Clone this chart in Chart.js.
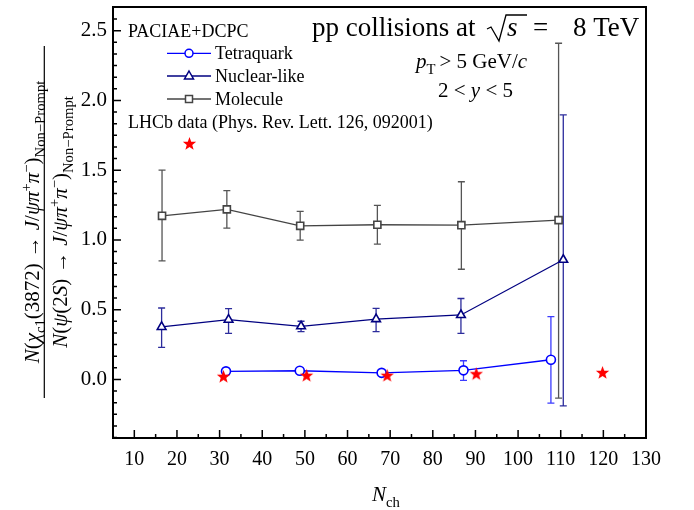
<!DOCTYPE html>
<html lang="en">
<head>
<meta charset="UTF-8">
<title>X(3872) ratio vs Nch</title>
<script src="https://cdn.jsdelivr.net/npm/chart.js"></script>
<style>
  body { margin: 0; background: #fff; }
  canvas { display: block; }
</style>
</head>
<body>
<canvas id="grafico" width="694" height="510"></canvas>
<script>
// --- data ---
const xTicks = [10, 20, 30, 40, 50, 60, 70, 80, 90, 100, 110, 120, 130];
const yTicks = [0.0, 0.5, 1.0, 1.5, 2.0, 2.5];

const tetraX  = [31.5, 48.8, 68.0, 87.2, 107.7];
const tetraY  = [0.058, 0.062, 0.047, 0.065, 0.141];
const tetraLo = [0.050, 0.054, 0.040, -0.007, -0.170];
const tetraHi = [0.066, 0.070, 0.054, 0.134, 0.450];

const nuclX  = [16.4, 32.1, 49.1, 66.7, 86.6, 110.6];
const nuclY  = [0.376, 0.428, 0.381, 0.432, 0.462, 0.858];
const nuclLo = [0.230, 0.330, 0.343, 0.343, 0.330, -0.190];
const nuclHi = [0.512, 0.508, 0.417, 0.510, 0.580, 1.897];

const molX  = [16.5, 31.7, 48.9, 67.0, 86.7, 109.5];
const molY  = [1.173, 1.219, 1.101, 1.109, 1.106, 1.142];
const molLo = [0.850, 1.085, 0.999, 0.970, 0.790, -0.134];
const molHi = [1.500, 1.353, 1.205, 1.248, 1.417, 2.410];

const lhcbX = [30.9, 50.4, 69.3, 90.2, 119.8];
const lhcbY = [0.022, 0.029, 0.029, 0.041, 0.050];

const SERIF = '"Liberation Serif", "DejaVu Serif", serif';
const BLUE = '#0000ff', NAVY = '#000080', GRAY = '#444444', RED = '#ff0000';

// filled five-point star used as marker
function starPath(ctx, cx, cy, ro, ri) {
  ctx.beginPath();
  for (let i = 0; i < 10; i++) {
    const r = i % 2 === 0 ? ro : ri;
    const a = -Math.PI / 2 + i * Math.PI / 5;
    const px = cx + r * Math.cos(a), py = cy + r * Math.sin(a);
    if (i === 0) ctx.moveTo(px, py); else ctx.lineTo(px, py);
  }
  ctx.closePath();
}
const starImg = document.createElement('canvas');
starImg.width = 15; starImg.height = 15;
(function () {
  const c = starImg.getContext('2d');
  c.fillStyle = RED;
  starPath(c, 7.5, 8, 7, 2.9);
  c.fill();
})();

function pts(xs, ys) { return xs.map((x, i) => ({ x: x, y: ys[i] })); }

// error bars: [xs, lo, hi, colour]
const errSets = [
  [molX, molLo, molHi, '#555555'],
  [nuclX, nuclLo, nuclHi, '#2c2c9c'],
  [tetraX, tetraLo, tetraHi, '#3c3cff']
];

// draws a list of text pieces one after another
function richWidth(ctx, segs, size) {
  let w = 0;
  segs.forEach(s => {
    const fs = s.sub || s.sup ? size * 0.7 : size;
    ctx.font = (s.it ? 'italic ' : '') + fs + 'px ' + SERIF;
    w += ctx.measureText(s.t).width + (s.gap || 0);
  });
  return w;
}
function drawRich(ctx, segs, x, y, size, align) {
  let cx = x;
  if (align === 'center') cx = x - richWidth(ctx, segs, size) / 2;
  segs.forEach(s => {
    const fs = s.sub || s.sup ? size * 0.7 : size;
    ctx.font = (s.it ? 'italic ' : '') + fs + 'px ' + SERIF;
    let dy = 0;
    if (s.sub) dy = size * 0.28;
    if (s.sup) dy = -size * 0.4;
    ctx.fillText(s.t, cx, y + dy);
    cx += ctx.measureText(s.t).width + (s.gap || 0);
  });
}

const numer = [
  { t: 'N', it: true }, { t: '(' }, { t: 'χ', it: true }, { t: 'c1', sub: true },
  { t: '(3872)', gap: 6 }, { t: '→', gap: 6 }, { t: 'J', it: true }, { t: '/' },
  { t: 'ψπ', it: true }, { t: '+', sup: true }, { t: 'π', it: true }, { t: '−', sup: true },
  { t: ')' }, { t: 'Non−Prompt', sub: true }
];
const denom = [
  { t: 'N', it: true }, { t: '(' }, { t: 'ψ', it: true }, { t: '(2' }, { t: 'S', it: true },
  { t: ')', gap: 6 }, { t: '→', gap: 6 }, { t: 'J', it: true }, { t: '/' },
  { t: 'ψπ', it: true }, { t: '+', sup: true }, { t: 'π', it: true }, { t: '−', sup: true },
  { t: ')' }, { t: 'Non−Prompt', sub: true }
];

function legendMarker(ctx, kind, x, y, color) {
  ctx.strokeStyle = color; ctx.fillStyle = '#fff'; ctx.lineWidth = 1.5;
  ctx.beginPath();
  if (kind === 'circle') ctx.arc(x, y, 4, 0, Math.PI * 2);
  if (kind === 'tri') { ctx.moveTo(x, y - 5); ctx.lineTo(x + 4.5, y + 3); ctx.lineTo(x - 4.5, y + 3); ctx.closePath(); }
  if (kind === 'rect') ctx.rect(x - 3.5, y - 3.5, 7, 7);
  ctx.fill(); ctx.stroke();
}

const decor = {
  id: 'decor',
  beforeDatasetsDraw(chart) {
    const ctx = chart.ctx, xs = chart.scales.x, ys = chart.scales.y;
    ctx.save();
    ctx.lineWidth = 1.3;
    errSets.forEach(([xv, lo, hi, col]) => {
      ctx.strokeStyle = col;
      xv.forEach((v, i) => {
        const px = xs.getPixelForValue(v);
        const p1 = ys.getPixelForValue(lo[i]), p2 = ys.getPixelForValue(hi[i]);
        ctx.beginPath();
        ctx.moveTo(px, p1); ctx.lineTo(px, p2);
        ctx.moveTo(px - 3.5, p1); ctx.lineTo(px + 3.5, p1);
        ctx.moveTo(px - 3.5, p2); ctx.lineTo(px + 3.5, p2);
        ctx.stroke();
      });
    });
    ctx.restore();
  },
  afterDraw(chart) {
    const ctx = chart.ctx, a = chart.chartArea, xs = chart.scales.x, ys = chart.scales.y;
    ctx.save();
    // frame
    ctx.strokeStyle = '#000'; ctx.lineWidth = 2;
    ctx.strokeRect(a.left, a.top, a.right - a.left, a.bottom - a.top);
    // inward ticks
    ctx.lineWidth = 1.5;
    ctx.beginPath();
    for (let v = 10; v <= 125; v += 5) {
      const px = xs.getPixelForValue(v), len = v % 10 === 0 ? 8 : 4;
      ctx.moveTo(px, a.bottom); ctx.lineTo(px, a.bottom - len);
    }
    for (let k = -5; k <= 31; k++) {
      const v = k / 12;
      if (v <= ys.min || v >= ys.max) continue;
      const py = ys.getPixelForValue(v), len = k % 6 === 0 ? 8 : 4;
      ctx.moveTo(a.left, py); ctx.lineTo(a.left + len, py);
    }
    ctx.stroke();

    ctx.fillStyle = '#000';
    ctx.textBaseline = 'alphabetic';
    ctx.textAlign = 'left';
    // top-left labels and legend
    ctx.font = '18px ' + SERIF;
    ctx.fillText('PACIAE+DCPC', 128, 37);
    ctx.fillText('LHCb data (Phys. Rev. Lett. 126, 092001)', 128, 128);
    const leg = [['Tetraquark', 'circle', BLUE, 53.3], ['Nuclear-like', 'tri', NAVY, 76], ['Molecule', 'rect', GRAY, 99]];
    leg.forEach(([txt, kind, col, y]) => {
      ctx.strokeStyle = col; ctx.lineWidth = 1.3;
      ctx.beginPath(); ctx.moveTo(167, y); ctx.lineTo(211, y); ctx.stroke();
      legendMarker(ctx, kind, 189, y, col);
      ctx.fillStyle = '#000';
      ctx.font = '18px ' + SERIF;
      ctx.fillText(txt, 215, y + 6);
    });
    ctx.drawImage(starImg, 182, 136);

    // "pp collisions at sqrt(s) = 8 TeV"
    ctx.font = '27px ' + SERIF;
    ctx.fillText('pp collisions at', 312, 36);
    ctx.strokeStyle = '#000'; ctx.lineWidth = 1.3;
    ctx.beginPath();
    ctx.moveTo(487, 29); ctx.lineTo(491, 27); ctx.lineTo(499, 41); ctx.lineTo(506, 15); ctx.lineTo(527, 15);
    ctx.stroke();
    ctx.font = 'italic 27px ' + SERIF;
    ctx.fillText('s', 507, 36);
    ctx.font = '27px ' + SERIF;
    ctx.fillText('=', 533, 36);
    ctx.fillText('8 TeV', 573, 36);

    drawRich(ctx, [{ t: 'p', it: true }, { t: 'T', sub: true, gap: 4 }, { t: '> 5 GeV/' }, { t: 'c', it: true }], 416, 68, 21, 'left');
    drawRich(ctx, [{ t: '2 < ' }, { t: 'y', it: true }, { t: ' < 5' }], 438, 97, 21, 'left');

    // x title
    drawRich(ctx, [{ t: 'N', it: true }, { t: 'ch', sub: true }], 372, 501, 21, 'left');

    // y title (fraction, rotated)
    ctx.translate(0, 222);
    ctx.rotate(-Math.PI / 2);
    drawRich(ctx, numer, 0, 39, 21, 'center');
    drawRich(ctx, denom, 0, 67, 21, 'center');
    ctx.fillRect(-176, 43.7, 352, 1.2);
    ctx.restore();
  }
};

const ctx = document.getElementById('grafico').getContext('2d');
new Chart(ctx, {
  type: 'scatter',
  data: {
    datasets: [
      { label: 'LHCb', data: pts(lhcbX, lhcbY), pointStyle: starImg, showLine: false },
      { label: 'Tetraquark', data: pts(tetraX, tetraY), showLine: true, borderColor: BLUE, borderWidth: 1.3,
        pointStyle: 'circle', pointRadius: 4.5, pointBorderWidth: 1.6, pointBackgroundColor: '#fff', pointBorderColor: BLUE },
      { label: 'Nuclear-like', data: pts(nuclX, nuclY), showLine: true, borderColor: NAVY, borderWidth: 1.3,
        pointStyle: 'triangle', pointRadius: 5, pointBorderWidth: 1.6, pointBackgroundColor: '#fff', pointBorderColor: NAVY },
      { label: 'Molecule', data: pts(molX, molY), showLine: true, borderColor: GRAY, borderWidth: 1.3,
        pointStyle: 'rect', pointRadius: 5, pointBorderWidth: 1.6, pointBackgroundColor: '#fff', pointBorderColor: GRAY }
    ]
  },
  options: {
    responsive: false,
    animation: false,
    layout: { padding: { top: 7, right: 48, left: 0, bottom: 0 } },
    plugins: { legend: { display: false }, tooltip: { enabled: false } },
    scales: {
      x: {
        type: 'linear', min: 5, max: 130,
        grid: { display: false, drawTicks: false },
        border: { display: false },
        afterBuildTicks: s => { s.ticks = xTicks.map(v => ({ value: v })); },
        afterFit: s => { s.height = 72; s.paddingLeft = 0; s.paddingRight = 0; },
        ticks: { color: '#000', padding: 10, font: { family: SERIF, size: 20 } }
      },
      y: {
        min: -0.42, max: 2.67,
        grid: { display: false, drawTicks: false },
        border: { display: false },
        afterBuildTicks: s => { s.ticks = yTicks.map(v => ({ value: v })); },
        afterFit: s => { s.width = 113; s.paddingTop = 0; s.paddingBottom = 0; },
        ticks: { color: '#000', padding: 6, font: { family: SERIF, size: 21 }, callback: v => v.toFixed(1) }
      }
    }
  },
  plugins: [decor]
});
</script>
</body>
</html>
